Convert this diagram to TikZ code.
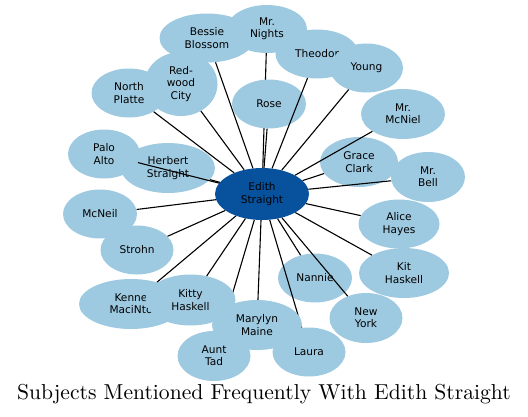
\documentclass[tikz,border=0pt]{standalone}
\usepackage{fontspec}
\usepackage{xcolor}
\usepackage{tikz}
\usetikzlibrary{shapes.geometric}

\newfontfamily\labelfont{DejaVu Sans}
\newfontfamily\titlefont{lmroman10-regular.otf}

\definecolor{subjblue}{RGB}{158,202,225}
\definecolor{hubblue}{RGB}{8,81,156}

\begin{document}
\begin{tikzpicture}[
			x=1pt, y=-1pt,
			subj/.style={ellipse, fill=subjblue, inner sep=0pt, align=center, minimum width=74pt, minimum height=49pt, font=\labelfont\fontsize{10.6}{12.4}\selectfont},
			hub/.style={subj, fill=hubblue, minimum width=94pt, minimum height=52pt},
			link/.style={line width=1.1pt, black}
			]
			\useasboundingbox (0,0) rectangle (528,416);
			\node[hub] (edith) at (262,194) {Edith\\Straight};
			% left side
			\node[subj, minimum width=94pt, minimum height=50pt] (herbert) at (168,168) {Herbert\\Straight};
			\draw[link] (edith) -- (herbert);
			\node[subj, minimum width=72pt] (palo) at (104,154) {Palo\\Alto};
			\draw[link] (edith) -- (palo);
			\node[subj, minimum width=75pt] (platte) at (129,93) {North\\Platte};
			\draw[link] (edith) -- (platte);
			\node[subj, minimum width=73pt, minimum height=64pt] (redwood) at (181,84) {Red-\\wood\\City};
			\draw[link] (edith) -- (redwood);
			% top
			\node[subj, minimum width=95pt] (bessie) at (207,38) {Bessie\\Blossom};
			\draw[link] (edith) -- (bessie);
			\node[subj, minimum width=80pt, minimum height=48pt] (nights) at (267,29) {Mr.\\Nights};
			\draw[link] (edith) -- (nights);
			\node[subj] (rose) at (269,104) {Rose};
			\draw[link] (edith) -- (rose);
			\node[subj, minimum width=83pt] (theodore) at (317,54) {Theodor};
			\draw[link] (edith) -- (theodore);
			\node[subj, minimum width=73pt] (young) at (366.5,68) {Young};
			\draw[link] (edith) -- (young);
			% right side
			\node[subj, minimum width=78pt, minimum height=50pt] (grace) at (359,162) {Grace\\Clark};
			\draw[link] (edith) -- (grace);
			\node[subj, minimum width=84pt, minimum height=50pt] (mcniel) at (403,114) {Mr.\\McNiel};
			\draw[link] (edith) -- (mcniel);
			\node[subj, minimum height=50pt] (bell) at (428,177) {Mr.\\Bell};
			\draw[link] (edith) -- (bell);
			\node[subj, minimum width=81pt] (alice) at (399,224) {Alice\\Hayes};
			\draw[link] (edith) -- (alice);
			\node[subj, minimum width=90pt, minimum height=50pt] (kit) at (404,273) {Kit\\Haskell};
			\draw[link] (edith) -- (kit);
			% bottom
			\node[subj] (nannie) at (315,278) {Nannie};
			\draw[link] (edith) -- (nannie);
			\node[subj, minimum width=73pt, minimum height=50pt] (newyork) at (366,318) {New\\York};
			\draw[link] (edith) -- (newyork);
			\node[subj, minimum width=73pt] (laura) at (309,352) {Laura};
			\draw[link] (edith) -- (laura);
			\node[subj, minimum width=73pt, minimum height=50pt] (aunt) at (214,356) {Aunt\\Tad};
			\draw[link] (edith) -- (aunt);
			\node[subj, minimum width=90pt, minimum height=50pt] (marylyn) at (257,325) {Marylyn\\Maine};
			\draw[link] (edith) -- (marylyn);
			\node[subj, minimum width=104pt, minimum height=50pt] (kenneth) at (131,304) {Kenne\\MaciNto};
			\draw[link] (edith) -- (kenneth);
			\node[subj, minimum width=90pt, minimum height=51pt] (kitty) at (190.5,300) {Kitty\\Haskell};
			\draw[link] (edith) -- (kitty);
			\node[subj, minimum width=73pt] (strohn) at (137,250) {Strohn};
			\draw[link] (edith) -- (strohn);
			\node[subj] (mcneil) at (100,214) {McNeil};
			\draw[link] (edith) -- (mcneil);
			% caption
			\node[font=\titlefont\fontsize{21.6}{25}\selectfont, anchor=base] (title) at (264,399) {Subjects Mentioned Frequently With Edith Straight};
		\end{tikzpicture}
\end{document}
